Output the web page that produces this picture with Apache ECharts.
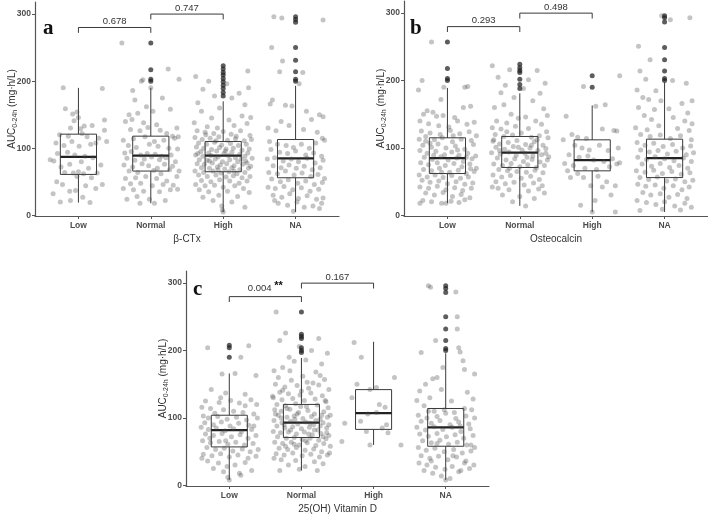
<!DOCTYPE html>
<html><head><meta charset="utf-8">
<script src="https://cdn.jsdelivr.net/npm/echarts@6/dist/echarts.min.js"></script>
<style>html,body{margin:0;padding:0;background:#fff}#c{width:708px;height:515px}</style>
</head><body><div id="c"></div>
<script>
// ---------- DATA ----------
const categories = ['Low', 'Normal', 'High', 'NA'];
const yTicks = [0, 100, 200, 300];
const xTitles = ['β-CTx', 'Osteocalcin', '25(OH) Vitamin D'];
const panelLetters = ['a', 'b', 'c'];

// box stats per group: [lowerWhisker, q1, median, q3, upperWhisker]
const statsA = [[19,61,87,121,190],[18,66,89,118,190],[5,65,89,110,170],[5,56,85,113,193]];
const statsB = [[18,62,85,115,189],[14,71,93,117,181],[5,66,82,112,163],[5,56,85,113,197]];
const statsC = [[8,57,82,104,166],[22,71,93,120,189],[60,83,107,142,213],[8,58,86,114,196]];

// outliers per group
const outA = [[],[257,217,203,200],[223,218,213,209,204,199,194,189,183,178],[296,292,288,250,231,214,203,200]];
const outB = [[257,218,203,200],[224,219,215,212,202,194,188],[207,190],[296,293,287,249,231,214,203,200]];
const outC = [[208,204,190],[257,224,221,218,204,200,197],[],[296,292,286,250,232,215,203,200]];

// significance brackets: [fromCat, toCat, label]
const bracketsA = [[1,2,'0.678'],[2,3,'0.747']];
const bracketsB = [[1,2,'0.293'],[2,3,'0.498']];
const bracketsC = [[1,2,'0.004','**'],[2,3,'0.167','']];
const bracketLevels = [[280,272],[300,292]];

// jittered points: [x offset in % of a category step, value]
const aLow = [[-21,190],[33,189],[-18,159],[-8,151],[-2,154],[-6,141],[0,146],[-11,130],[3,129],[8,133],[19,134],[36,142],[36,127],[-26,120],[-14,118],[5,122],[12,117],[28,115],[-31,108],[-20,104],[1,103],[-9,110],[17,106],[24,108],[39,110],[-39,83],[-29,92],[-34,81],[-15,94],[-5,90],[9,88],[20,86],[31,75],[-24,72],[-12,76],[4,80],[14,70],[26,63],[-19,64],[-7,63],[0,65],[7,62],[-30,50],[-22,46],[-2,58],[18,56],[33,46],[10,44],[-12,36],[24,40],[-35,32],[-4,37],[6,27],[-25,20],[16,19],[-11,22]];
const aNormal = [[-40,257],[-13,200],[-11,202],[24,218],[39,203],[-25,186],[0,190],[-6,162],[-22,172],[16,175],[-30,150],[-18,152],[3,155],[27,158],[-35,140],[-26,143],[-10,138],[8,135],[36,130],[-28,128],[-15,126],[-4,131],[13,127],[22,122],[30,118],[38,117],[-38,112],[-24,114],[-8,117],[5,110],[18,112],[33,115],[-31,104],[-20,101],[-2,106],[10,103],[25,100],[37,99],[-36,93],[-27,95],[-14,90],[-5,92],[6,91],[15,88],[28,90],[-33,85],[-22,82],[-9,84],[1,87],[12,83],[21,86],[34,80],[-37,75],[-25,72],[-12,77],[-3,74],[9,70],[19,76],[30,73],[39,66],[-30,66],[-18,64],[4,67],[14,62],[26,68],[-35,55],[-21,56],[-7,58],[8,55],[22,51],[36,58],[-28,47],[-14,48],[2,44],[17,46],[31,45],[-38,40],[-24,38],[-10,36],[12,35],[27,38],[37,39],[-19,28],[-2,24],[20,22],[-33,24],[-15,18],[5,18]];
const aHigh = [[-38,207],[-20,200],[5,196],[34,215],[35,190],[-28,188],[22,182],[-12,178],[12,175],[-35,168],[30,165],[-5,160],[-30,155],[38,146],[26,148],[-16,145],[8,142],[-40,138],[-22,132],[15,134],[33,137],[-8,130],[-36,126],[-25,124],[-13,122],[0,125],[11,121],[24,126],[37,119],[-39,116],[-29,113],[-18,115],[-6,117],[6,112],[17,114],[29,111],[39,113],[-34,108],[-23,106],[-12,109],[-2,105],[10,107],[21,104],[32,106],[-37,102],[-27,100],[-16,98],[-5,101],[4,99],[14,100],[26,97],[36,99],[-31,95],[-20,93],[-9,96],[1,92],[12,94],[23,91],[34,93],[-38,90],[-28,88],[-17,89],[-7,87],[7,89],[17,86],[30,88],[40,85],[-33,83],[-22,82],[-11,84],[-1,80],[9,83],[20,80],[31,81],[-36,77],[-26,76],[-15,78],[-4,75],[5,77],[15,74],[27,76],[38,73],[-30,71],[-19,70],[-8,72],[2,69],[12,71],[23,68],[35,70],[-39,66],[-27,64],[-14,66],[-3,63],[8,65],[19,62],[30,64],[-34,60],[-22,58],[-10,60],[4,57],[14,59],[26,56],[37,58],[-30,52],[-17,50],[-5,53],[9,51],[22,48],[33,51],[-38,46],[-25,44],[-12,45],[0,42],[16,44],[28,40],[-33,38],[-20,35],[6,36],[36,34],[-28,27],[-6,30],[20,28],[-14,22],[12,20],[-2,14],[30,12],[-1,8],[0,5],[-24,120],[18,118],[-10,111],[3,96],[-35,92],[25,84],[-19,81],[33,78],[-7,68],[15,66]];
const aNA = [[-30,296],[-19,294],[38,291],[-33,250],[-18,230],[-22,214],[10,213],[5,196],[-35,166],[-32,172],[-14,164],[-5,163],[15,155],[22,143],[33,150],[38,147],[-38,130],[-27,126],[-20,140],[-9,134],[11,128],[30,124],[37,115],[-36,110],[-25,106],[-13,104],[-3,101],[8,106],[19,100],[28,108],[40,112],[-34,98],[-22,94],[-11,92],[0,96],[14,90],[25,93],[36,88],[-39,84],[-29,86],[-17,81],[-6,84],[4,80],[16,85],[27,78],[38,82],[-31,74],[-20,71],[-9,75],[1,70],[12,73],[23,68],[34,71],[-37,64],[-25,62],[-14,66],[-2,60],[9,63],[21,58],[31,61],[40,55],[-33,54],[-21,50],[-10,53],[3,48],[14,51],[26,46],[37,49],[-38,42],[-28,40],[-16,43],[-4,38],[8,41],[20,36],[32,39],[-31,30],[-19,27],[-8,32],[4,25],[16,29],[29,24],[38,26],[-24,18],[-11,15],[2,20],[24,14],[33,10],[-3,6],[12,12],[-29,22],[36,18]];

const bLow = [[-22,257],[-35,200],[-40,186],[-5,190],[24,190],[28,191],[-9,172],[-28,155],[-33,150],[-20,153],[-15,147],[-6,148],[10,145],[22,160],[32,162],[-38,140],[-26,136],[-12,133],[2,131],[14,140],[27,135],[37,138],[-36,125],[-24,122],[-10,120],[4,126],[17,121],[30,124],[40,118],[-39,113],[-30,110],[-18,112],[-7,115],[7,109],[19,113],[33,111],[-34,104],[-22,101],[-13,106],[-2,100],[11,103],[24,98],[36,105],[-38,96],[-28,92],[-16,95],[-4,90],[6,94],[16,89],[28,92],[39,88],[-32,86],[-21,83],[-9,87],[1,82],[13,85],[22,80],[34,84],[-37,78],[-26,75],[-14,78],[-3,74],[9,77],[20,72],[31,76],[40,70],[-33,68],[-22,66],[-11,70],[3,64],[15,67],[26,62],[37,65],[-39,60],[-28,57],[-17,60],[-6,56],[6,59],[18,55],[29,57],[-35,52],[-24,49],[-12,51],[0,47],[12,50],[24,46],[35,48],[-38,42],[-26,40],[-14,43],[-2,38],[10,41],[21,37],[33,40],[-30,33],[-18,30],[-6,34],[7,28],[19,31],[31,26],[-34,22],[-22,20],[-8,18],[5,21],[24,23],[-38,18],[16,19],[-2,18],[-30,117],[8,118],[-19,89],[26,86],[-8,64],[32,69],[-24,107],[14,97]];
const bNormal = [[-38,222],[-14,216],[24,215],[-30,205],[12,201],[35,196],[-20,193],[5,188],[-26,182],[28,181],[-8,175],[18,170],[-35,160],[-22,164],[33,158],[-12,150],[8,146],[-2,144],[38,148],[-32,140],[-18,137],[22,140],[30,135],[-38,130],[-26,128],[-6,132],[12,129],[37,124],[-34,120],[-22,117],[-10,119],[2,122],[16,116],[27,118],[39,115],[-37,110],[-28,106],[-16,108],[-4,111],[8,105],[20,109],[32,104],[-33,101],[-21,98],[-9,102],[3,97],[14,100],[25,96],[36,99],[-39,93],[-27,91],[-15,94],[-5,89],[7,92],[18,88],[30,90],[40,87],[-31,85],[-19,82],[-7,84],[5,80],[17,83],[28,79],[38,82],[-36,76],[-24,74],[-12,77],[0,72],[11,75],[23,71],[34,74],[-29,68],[-17,66],[-4,65],[9,64],[21,67],[32,63],[-37,60],[-25,57],[-13,59],[2,55],[15,58],[27,53],[-33,50],[-20,47],[-8,49],[6,45],[19,48],[31,44],[-38,42],[-30,40],[-15,38],[12,36],[26,39],[-24,30],[0,28],[20,25],[-10,20],[8,14],[34,33],[-36,112],[24,112],[-18,124],[10,86],[-28,96],[-2,101],[36,92],[-14,70],[16,104]];
const bHigh = [[-36,147],[-12,191],[38,207],[5,162],[18,164],[-28,120],[-20,116],[-8,114],[14,128],[30,126],[34,125],[-40,112],[-24,104],[-14,100],[-4,97],[10,104],[22,96],[36,100],[-32,90],[-18,86],[-6,88],[2,82],[16,80],[28,84],[38,78],[-38,77],[-26,74],[-10,70],[6,68],[24,72],[34,76],[-34,66],[-20,62],[-12,56],[8,58],[20,50],[32,44],[-30,56],[-2,44],[14,42],[26,30],[4,22],[-16,15],[32,5],[0,5]];
const bNA = [[-4,296],[35,293],[8,290],[-36,251],[-20,231],[-34,214],[-26,202],[11,200],[30,196],[-38,186],[-12,185],[-30,175],[-22,172],[-5,170],[24,166],[38,170],[-36,160],[-14,157],[6,158],[32,152],[-28,148],[-18,142],[12,145],[28,140],[38,136],[-40,130],[-24,127],[-8,133],[18,129],[34,126],[-33,120],[-20,117],[-6,119],[8,114],[22,118],[37,112],[-38,108],[-27,104],[-15,107],[-2,102],[11,105],[25,100],[36,103],[-33,97],[-21,94],[-9,96],[4,91],[16,95],[30,90],[40,93],[-37,86],[-25,83],[-13,87],[0,84],[13,81],[26,85],[37,80],[-31,76],[-18,73],[-6,77],[7,71],[20,74],[32,70],[-39,66],[-27,64],[-15,67],[-3,62],[10,65],[23,61],[35,63],[-34,56],[-22,53],[-10,57],[3,51],[15,54],[28,50],[39,52],[-37,46],[-26,43],[-13,45],[-1,40],[12,44],[24,38],[34,42],[-30,34],[-19,30],[-6,32],[6,27],[18,31],[31,25],[-38,22],[-25,19],[-12,16],[0,20],[14,14],[28,18],[37,12],[-34,7],[-3,9],[22,8]];

const cLow = [[-30,204],[27,207],[16,190],[-10,165],[8,166],[37,163],[-25,142],[-5,137],[22,135],[-33,125],[-14,123],[2,126],[14,122],[30,127],[38,120],[-38,116],[-26,114],[-8,112],[-20,107],[6,110],[19,108],[34,106],[-36,103],[-29,100],[-16,102],[-3,98],[10,101],[24,97],[39,100],[-34,93],[-22,90],[-11,94],[1,88],[13,92],[27,89],[-39,86],[-29,83],[-18,85],[-6,81],[6,84],[17,80],[31,83],[-33,76],[-22,74],[-10,77],[3,72],[15,75],[26,70],[37,74],[-37,66],[-26,63],[-14,65],[-2,61],[9,64],[21,60],[33,62],[-31,56],[-19,53],[-7,55],[5,51],[18,54],[29,50],[40,53],[-36,46],[-24,44],[-12,47],[0,42],[12,45],[26,40],[37,43],[-30,36],[-15,33],[-3,28],[8,30],[22,34],[-38,40],[-22,25],[-8,20],[14,18],[31,22],[-2,12],[16,15],[0,8],[-27,70],[22,118],[-12,130],[34,88],[-5,66]];
const cNormal = [[-35,257],[-22,226],[24,218],[-30,215],[-3,206],[14,200],[36,196],[-17,190],[-10,184],[6,186],[28,180],[-38,170],[-26,175],[20,168],[-32,160],[-14,156],[2,162],[16,152],[32,157],[-36,150],[-23,146],[-6,148],[10,144],[24,149],[38,142],[-30,138],[-18,136],[-2,134],[13,137],[29,133],[-39,130],[-27,127],[-12,129],[4,126],[19,128],[34,124],[-34,120],[-22,118],[-8,121],[7,117],[22,119],[37,115],[-37,112],[-28,110],[-16,113],[-4,108],[9,111],[18,106],[31,109],[40,104],[-32,104],[-20,101],[-10,103],[2,99],[14,102],[26,98],[36,101],[-38,96],[-27,93],[-15,95],[-5,91],[6,94],[17,90],[30,93],[-34,88],[-23,85],[-12,87],[0,84],[11,86],[23,82],[35,85],[-39,80],[-29,78],[-18,79],[-7,76],[4,79],[15,75],[27,77],[38,74],[-33,72],[-21,70],[-10,71],[1,68],[12,70],[24,67],[34,69],[-37,64],[-26,62],[-14,64],[-3,60],[8,63],[20,59],[31,62],[40,58],[-31,55],[-19,53],[-7,56],[5,52],[17,54],[28,50],[39,48],[-35,47],[-24,45],[-12,48],[1,44],[13,46],[25,42],[36,45],[-38,40],[-28,38],[-8,37],[18,35],[30,32],[-18,30],[5,28],[-30,22],[22,22],[-3,24],[-24,90],[26,88],[-9,98],[10,76],[-20,114],[33,126],[-1,117],[12,92],[-15,82],[28,104],[-28,100],[20,96],[-6,106],[35,78],[-36,106],[6,66],[-22,58],[18,82],[0,140],[-40,132],[38,90],[30,72],[-10,61],[-26,141],[8,153],[26,163],[-16,170]];
const cHigh = [[-27,212],[-17,190],[-23,150],[29,160],[4,145],[-5,142],[-40,92],[-44,65],[16,116],[-8,106],[4,108],[-10,80],[12,85],[18,90],[-5,60],[38,60],[20,78],[-18,95],[8,120],[-30,130]];
const cNA = [[-24,296],[-21,294],[14,287],[16,250],[16,232],[-14,215],[-34,197],[18,204],[20,198],[24,185],[-4,175],[26,172],[-12,160],[-18,158],[-28,150],[40,165],[-36,140],[-6,142],[30,138],[-22,130],[-40,126],[8,125],[38,128],[-30,118],[-16,110],[-2,112],[12,108],[26,114],[36,112],[-38,104],[-26,100],[-12,102],[0,107],[14,99],[28,103],[40,100],[-34,95],[-20,92],[-8,96],[6,90],[18,94],[32,91],[-40,86],[-28,82],[-16,87],[-4,83],[9,86],[21,80],[34,84],[-36,76],[-24,73],[-12,77],[1,72],[13,75],[25,70],[38,74],[-32,66],[-20,63],[-8,67],[4,61],[16,64],[29,60],[40,56],[-38,56],[-27,52],[-15,55],[-2,50],[11,53],[23,48],[35,51],[-34,44],[-22,40],[-10,43],[3,38],[15,42],[28,36],[39,30],[-37,33],[-26,30],[-14,27],[-1,24],[9,28],[21,22],[33,25],[-30,22],[-18,18],[-6,14],[6,10],[18,20],[0,8],[35,60],[-12,62],[20,88],[-24,110],[10,44],[-20,36],[26,33]];

// ---------- LAYOUT ----------
const panels = [
  {grid:{left:35, top:2, width:304, height:214}, stats:statsA, out:outA, pts:[aLow,aNormal,aHigh,aNA], br:bracketsA, letterPos:[43,18]},
  {grid:{left:404, top:1, width:304, height:215}, stats:statsB, out:outB, pts:[bLow,bNormal,bHigh,bNA], br:bracketsB, letterPos:[410,18]},
  {grid:{left:186, top:271, width:303, height:217}, stats:statsC, out:outC, pts:[cLow,cNormal,cHigh,cNA], br:bracketsC, letterPos:[193,279]}
];
const axisColor = '#555';
const textColor = '#4d4d4d';
const FONT = '"Liberation Sans", Arial, sans-serif';

function renderBox(params, api) {
  const x = api.value(0), lo = api.value(1), q1 = api.value(2), med = api.value(3), q3 = api.value(4), hi = api.value(5);
  const hw = 0.25;
  const tl = api.coord([x - hw, q3]), br = api.coord([x + hw, q1]);
  const pHi = api.coord([x, hi]), pLo = api.coord([x, lo]);
  const pQ1 = api.coord([x, q1]), pQ3 = api.coord([x, q3]);
  const m1 = api.coord([x - hw, med]), m2 = api.coord([x + hw, med]);
  const ls = {stroke:'#3a3a3a', lineWidth:1};
  return {type:'group', children:[
    {type:'line', shape:{x1:pHi[0], y1:pHi[1], x2:pQ3[0], y2:pQ3[1]}, style:ls},
    {type:'line', shape:{x1:pQ1[0], y1:pQ1[1], x2:pLo[0], y2:pLo[1]}, style:ls},
    {type:'rect', shape:{x:tl[0], y:tl[1], width:br[0]-tl[0], height:br[1]-tl[1]}, style:{fill:'none', stroke:'#3a3a3a', lineWidth:1}},
    {type:'line', shape:{x1:m1[0], y1:m1[1], x2:m2[0], y2:m2[1]}, style:{stroke:'#222', lineWidth:2.2}}
  ]};
}

function makeBracketRenderer(br) {
  return function (params, api) {
    const i = params.dataIndex;
    const x1 = api.value(0), x2 = api.value(1), yTop = api.value(2), yLeg = api.value(3);
    const a = api.coord([x1, yLeg]), b = api.coord([x1, yTop]), c = api.coord([x2, yTop]), d = api.coord([x2, yLeg]);
    const label = br[i][2], star = br[i][3] || '';
    const children = [
      {type:'polyline', shape:{points:[a, b, c, d]}, style:{stroke:'#3a3a3a', lineWidth:1, fill:'none'}},
      {type:'text', x:(b[0]+c[0])/2, y:b[1]-1, style:{
        text: star ? '{n|' + label + '} {s|' + star + '}' : label,
        font: '9.5px ' + FONT, fill:'#333', align:'center', verticalAlign:'bottom',
        rich: {n:{fontSize:9.5, fontFamily:FONT, fill:'#333'}, s:{fontSize:11, fontWeight:'bold', fontFamily:FONT, fill:'#111', padding:[0,0,4,0]}}
      }}
    ];
    return {type:'group', children};
  };
}

const grid = [], xAxis = [], yAxis = [], series = [], graphic = [];
panels.forEach((p, i) => {
  grid.push(p.grid);
  xAxis.push({
    gridIndex:i, type:'value', min:0.4, max:4.6,
    name: xTitles[i], nameLocation:'middle', nameGap:18, nameMoveOverlap:false,
    nameTextStyle:{fontFamily:FONT, fontSize:10, color:'#333'},
    axisLine:{show:true, onZero:false, lineStyle:{color:axisColor, width:1.2}},
    axisTick:{show:true, length:3, customValues:[1,2,3,4], lineStyle:{color:axisColor}},
    axisLabel:{customValues:[1,2,3,4], margin:5, fontFamily:FONT, fontSize:8.5, fontWeight:'bold', color:textColor,
      formatter: v => categories[Math.round(v) - 1] || ''},
    splitLine:{show:false}
  });
  yAxis.push({
    gridIndex:i, type:'value', min:-1, max:318,
    name:'{a|AUC}{s|0-24h}{a| (mg·h/L)}', nameLocation:'middle', nameGap:16, nameRotate:90, nameMoveOverlap:false,
    nameTextStyle:{rich:{a:{fontFamily:FONT, fontSize:10, color:'#333'}, s:{fontFamily:FONT, fontSize:7, color:'#333', verticalAlign:'bottom', padding:[6,0,0,0]}}},
    axisLine:{show:true, onZero:false, lineStyle:{color:axisColor, width:1.2}},
    axisTick:{show:true, length:3, customValues:yTicks, lineStyle:{color:axisColor}},
    axisLabel:{customValues:yTicks, margin:4, fontFamily:FONT, fontSize:8.5, fontWeight:'bold', color:textColor},
    splitLine:{show:false}
  });
  series.push({
    type:'custom', xAxisIndex:i, yAxisIndex:i, renderItem:renderBox, silent:true, z:1,
    encode:{x:0, y:[1,2,3,4,5]},
    data: p.stats.map((s, k) => [k + 1].concat(s))
  });
  series.push({
    type:'scatter', xAxisIndex:i, yAxisIndex:i, silent:true, z:2, symbolSize:5,
    itemStyle:{color:'rgba(70,70,70,0.4)'},
    data: p.pts.flatMap((g, k) => g.map(([dx, y]) => [k + 1 + dx / 100, y]))
  });
  series.push({
    type:'scatter', xAxisIndex:i, yAxisIndex:i, silent:true, z:3, symbolSize:5,
    itemStyle:{color:'rgba(30,30,30,0.9)'},
    data: p.out.flatMap((g, k) => g.map(y => [k + 1, y]))
  });
  series.push({
    type:'custom', xAxisIndex:i, yAxisIndex:i, silent:true, z:4, clip:false,
    renderItem: makeBracketRenderer(p.br),
    encode:{x:[0,1], y:[2,3]},
    data: p.br.map((b, k) => [b[0], b[1], bracketLevels[k][0], bracketLevels[k][1]])
  });
  graphic.push({type:'text', x:p.letterPos[0], y:p.letterPos[1], z:10,
    style:{text:panelLetters[i], font:'bold 21px "Liberation Serif", "DejaVu Serif", serif', fill:'#111', verticalAlign:'alphabetic'}});
});

const chart = echarts.init(document.getElementById('c'), null, {renderer:'canvas'});
chart.setOption({animation:false, backgroundColor:'#fff', grid, xAxis, yAxis, series, graphic});
</script>
</body></html>
